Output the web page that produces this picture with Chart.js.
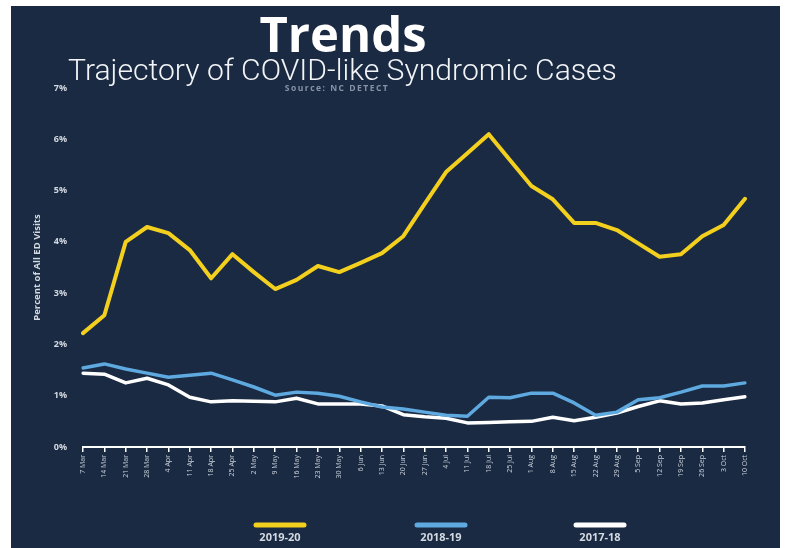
<!DOCTYPE html>
<html>
<head>
<meta charset="utf-8">
<script src="https://cdn.jsdelivr.net/npm/chart.js@4.4.0/dist/chart.umd.min.js"></script>
<style>
  body { margin: 0; background: #fff; width: 787px; height: 548px; position: relative; overflow: hidden; }
  #panel { position: absolute; left: 11px; top: 6px; width: 769px; height: 542px; background: #1a2a42; }
  #title { position: absolute; left: 0; top: 3px; width: 664px; text-align: center; color: #fff;
    font: 700 49px/48px 'Open Sans', sans-serif; }
  #subtitle { position: absolute; left: 57px; top: 47px; color: #f2f4f7; white-space: nowrap;
    font: 300 30px/34px Roboto, sans-serif; transform-origin: left top; }
  #source { position: absolute; left: 0; top: 77px; width: 652px; text-align: center; color: #8793a5;
    font: 700 8.5px/10px 'Open Sans', sans-serif; letter-spacing: 1.5px; }
  canvas { position: absolute; left: 0; top: 0; }
</style>
</head>
<body>
<div id="panel">
  <canvas id="trendChart" width="769" height="542"></canvas>
  <div id="title">Trends</div>
  <div id="subtitle">Trajectory of COVID-like Syndromic Cases</div>
  <div id="source">Source: NC DETECT</div>
</div>
<script>
const weeks = ['7 Mar', '14 Mar', '21 Mar', '28 Mar', '4 Apr', '11 Apr', '18 Apr', '25 Apr',
  '2 May', '9 May', '16 May', '23 May', '30 May', '6 Jun', '13 Jun', '20 Jun', '27 Jun',
  '4 Jul', '11 Jul', '18 Jul', '25 Jul', '1 Aug', '8 Aug', '15 Aug', '22 Aug', '29 Aug',
  '5 Sep', '12 Sep', '19 Sep', '26 Sep', '3 Oct', '10 Oct'];

const season2019 = [2.22, 2.57, 4.00, 4.29, 4.17, 3.84, 3.29, 3.76, 3.41, 3.08, 3.26, 3.53,
  3.41, 3.59, 3.78, 4.11, 4.74, 5.36, 5.73, 6.10, 5.59, 5.09, 4.83, 4.37, 4.37, 4.23,
  3.97, 3.71, 3.76, 4.11, 4.33, 4.84];
const season2018 = [1.54, 1.62, 1.52, 1.44, 1.36, 1.40, 1.44, 1.31, 1.17, 1.01, 1.07, 1.05,
  0.99, 0.88, 0.78, 0.74, 0.68, 0.62, 0.60, 0.97, 0.96, 1.05, 1.05, 0.86, 0.62, 0.68,
  0.92, 0.96, 1.07, 1.19, 1.19, 1.25];
const season2017 = [1.44, 1.42, 1.25, 1.34, 1.21, 0.97, 0.88, 0.90, 0.89, 0.88, 0.95, 0.84,
  0.84, 0.84, 0.80, 0.63, 0.59, 0.56, 0.47, 0.48, 0.49, 0.50, 0.58, 0.51, 0.58, 0.66,
  0.79, 0.90, 0.84, 0.86, 0.92, 0.98];

const yTicks = [0, 1, 2, 3, 4, 5, 6, 7];

// fit subtitle to the width it has in the picture
const sub = document.getElementById('subtitle');
sub.style.transform = 'scaleX(' + (549 / sub.offsetWidth) + ')';

const bottomLegend = {
  id: 'bottomLegend',
  afterDraw(chart) {
    const ctx = chart.ctx;
    const centers = [269, 430, 589];
    ctx.save();
    chart.data.datasets.forEach((ds, i) => {
      const cx = centers[i];
      ctx.strokeStyle = ds.borderColor;
      ctx.lineWidth = 5;
      ctx.lineCap = 'round';
      ctx.beginPath();
      ctx.moveTo(cx - 24, 519);
      ctx.lineTo(cx + 24, 519);
      ctx.stroke();
      ctx.fillStyle = '#d3d9e1';
      ctx.font = "bold 11px 'Open Sans', sans-serif";
      ctx.textAlign = 'center';
      ctx.textBaseline = 'middle';
      ctx.fillText(ds.label, cx, 532);
    });
    ctx.restore();
  }
};

new Chart(document.getElementById('trendChart').getContext('2d'), {
  type: 'line',
  data: {
    labels: weeks,
    datasets: [{
      label: '2019-20',
      data: season2019,
      borderColor: '#f3d01e',
      borderWidth: 4
    }, {
      label: '2018-19',
      data: season2018,
      borderColor: '#5ea9df',
      borderWidth: 3.5
    }, {
      label: '2017-18',
      data: season2017,
      borderColor: '#ffffff',
      borderWidth: 3.5
    }]
  },
  options: {
    responsive: false,
    animation: false,
    layout: {
      padding: { top: 82, right: 35, bottom: 51, left: 0 }
    },
    elements: {
      point: { radius: 0 },
      line: { tension: 0, borderJoinStyle: 'round', borderCapStyle: 'round' }
    },
    plugins: {
      legend: { display: false },
      tooltip: { enabled: false }
    },
    scales: {
      x: {
        offset: false,
        afterFit: scale => { scale.height = 50; },
        border: { color: '#ffffff', width: 2 },
        grid: {
          drawOnChartArea: false,
          color: '#ffffff',
          lineWidth: 1.5,
          tickLength: 5
        },
        ticks: {
          minRotation: 90,
          maxRotation: 90,
          autoSkip: false,
          padding: 3,
          color: '#c9d0da',
          font: { size: 7, family: "'Open Sans', sans-serif" }
        }
      },
      y: {
        min: 0,
        max: 7,
        afterFit: scale => { scale.width = 72; },
        afterBuildTicks: scale => { scale.ticks = yTicks.map(v => ({ value: v })); },
        border: { display: false },
        grid: { display: false },
        ticks: {
          padding: 8,
          color: '#d3d9e1',
          font: { size: 9, weight: 'bold', family: "'Open Sans', sans-serif" },
          callback: value => value + '%'
        },
        title: {
          display: true,
          text: 'Percent of All ED Visits',
          color: '#d3d9e1',
          padding: { top: 21, bottom: 0 },
          font: { size: 9.5, weight: 'bold', family: "'Open Sans', sans-serif" }
        }
      }
    }
  },
  plugins: [bottomLegend]
});
</script>
</body>
</html>
